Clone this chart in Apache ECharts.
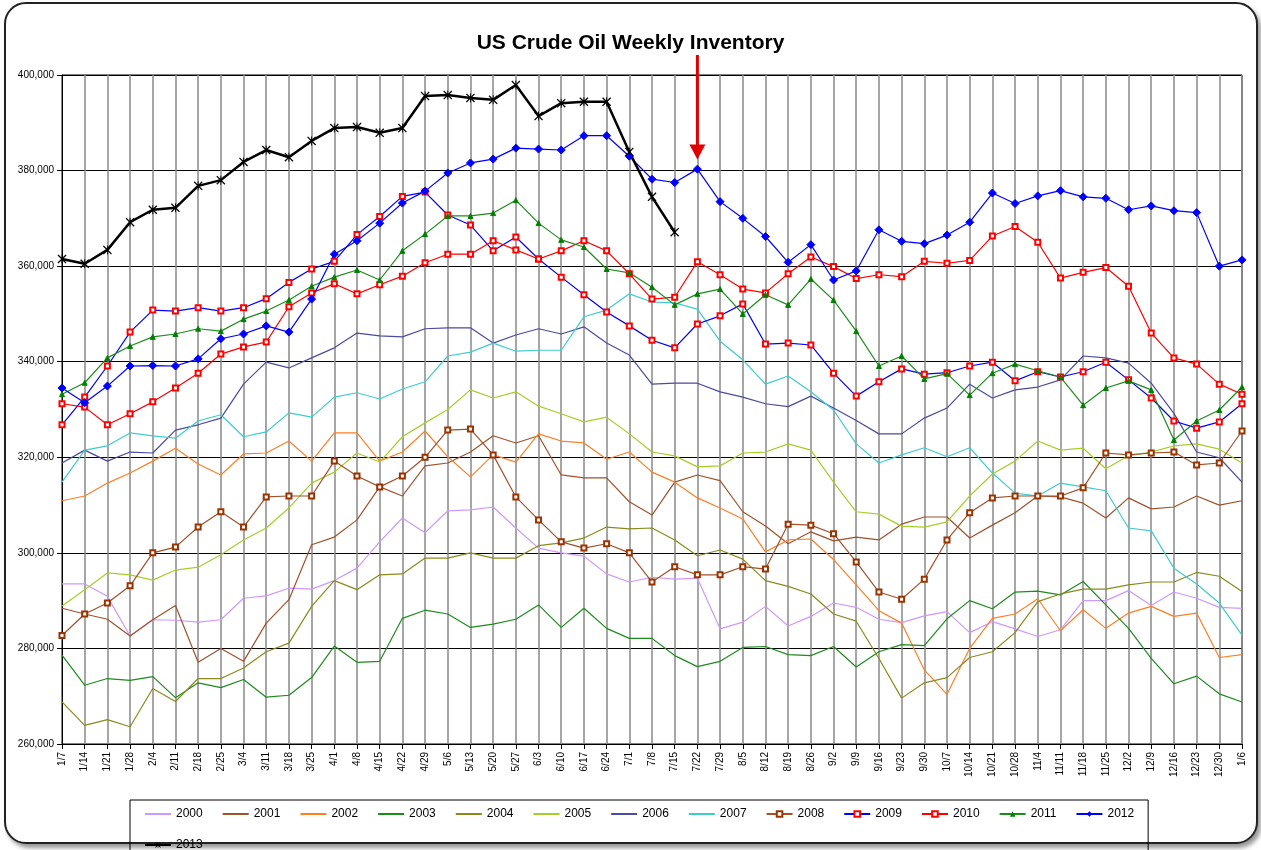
<!DOCTYPE html>
<html>
<head>
<meta charset="utf-8">
<script src="https://cdn.jsdelivr.net/npm/echarts@6/dist/echarts.min.js"></script>
<style>
  html, body { margin: 0; padding: 0; background: #fff; }
  #frame { position: absolute; left: 4px; top: 2px; width: 1250px; height: 838px;
           border: 2px solid #222; border-radius: 22px; box-shadow: 3px 4px 4px #999; background: #fff; }
  #main { position: absolute; left: 0; top: 0; width: 1261px; height: 850px; }
</style>
</head>
<body>
<div id="frame"></div>
<div id="main"></div>
<script>
// week labels (x axis)
var weeks = ['1/7','1/14','1/21','1/28','2/4','2/11','2/18','2/25','3/4','3/11','3/18','3/25','4/1','4/8','4/15','4/22','4/29','5/6','5/13','5/20','5/27','6/3','6/10','6/17','6/24','7/1','7/8','7/15','7/22','7/29','8/5','8/12','8/19','8/26','9/2','9/9','9/16','9/23','9/30','10/7','10/14','10/21','10/28','11/4','11/11','11/18','11/25','12/2','12/9','12/16','12/23','12/30','1/6'];

// inventory, thousand barrels
var y2000 = [293.5,293.5,290.9,282.6,286,285.9,285.5,286,290.5,291,292.6,292.4,294.2,296.8,302.3,307.3,304.2,308.8,309,309.6,305.2,301,300,299.3,295.6,293.9,294.9,294.5,294.7,284.1,285.5,288.8,284.7,286.7,289.5,288.6,286.1,285.4,286.8,287.7,283.3,285.6,284.1,282.5,283.9,290,290,292.1,289,291.8,290.5,288.6,288.4];
var y2001 = [288.4,287.2,286.1,282.6,286,289,277.1,280,277.3,285.3,290.2,301.7,303.3,306.9,313.8,311.9,318.2,318.8,321.1,324.5,323,324.5,316.3,315.7,315.7,310.7,307.9,314.8,316.3,315.1,308.6,305.6,301.9,304.4,302.5,303.3,302.7,306,307.5,307.5,303.1,305.8,308.4,311.9,311.7,310.4,307.3,311.5,309.2,309.6,311.9,310,310.9];
var y2002 = [310.9,311.9,314.6,316.7,319.2,321.9,318.6,316.3,320.7,320.9,323.4,319.2,325.1,325.1,319.2,321.1,325.5,320.1,315.9,320.5,319,324.9,323.4,323,319.6,321.1,316.9,314.8,311.5,309.4,307.1,300.2,302.7,302.9,298.6,293.3,287.9,285.3,275.5,270.4,280,286.3,287.2,290.4,283.7,288.1,284.2,287.4,288.8,286.7,287.4,278.1,278.7];
var y2003 = [278.6,272.3,273.7,273.3,274.1,269.7,272.8,271.8,273.5,269.8,270.2,273.9,280.5,277.1,277.3,286.3,288,287.2,284.4,285.1,286.1,289.1,284.4,288.4,284.2,282.1,282.1,278.5,276.2,277.3,280.2,280.4,278.7,278.5,280.4,276.1,279.3,280.8,280.6,286.2,290,288.3,291.8,292,291.2,294,289.1,284.2,277.9,272.6,274.2,270.5,268.8];
var y2004 = [268.8,263.9,265.1,263.6,271.6,268.9,273.7,273.7,275.9,279.3,281.1,288.8,294.2,292.3,295.4,295.6,298.9,298.9,300,298.9,298.9,301.5,302.1,303.1,305.4,305,305.2,302.7,299.4,300.6,298.7,294.2,293,291.4,287.2,285.7,277.9,269.6,272.8,273.9,278.1,279.3,283.3,289.8,291.4,292.4,292.4,293.3,293.9,293.9,295.9,295.1,291.9];
var y2005 = [288.9,292.3,295.8,295.4,294.3,296.4,297,299.6,302.7,305.2,309.4,314.6,316.9,320.9,319,324.3,327.2,330,334.1,332.4,333.7,330.7,329.1,327.4,328.4,324.9,321.1,320.3,318,318.2,320.9,321.1,322.8,321.5,314.8,308.6,308.1,305.6,305.4,306.5,311.9,316.5,319.2,323.4,321.5,321.9,317.6,320.3,321.1,322.4,322.8,321.7,318.8];
var y2006 = [318.8,321.5,319.2,321.1,320.9,325.7,326.8,328.2,335.3,339.9,338.7,340.8,342.9,346,345.4,345.2,346.9,347.1,347.1,343.9,345.6,346.9,345.8,347.3,343.9,341.4,335.3,335.5,335.5,333.7,332.6,331.2,330.6,332.8,330.3,327.7,324.9,324.9,328.2,330.3,335.3,332.4,334.1,334.7,336.2,341.2,340.8,339.7,335.5,329.2,321.1,319.9,314.8];
var y2007 = [314.8,321.5,322.4,325.1,324.5,324,327.6,328.9,324.3,325.3,329.3,328.4,332.6,333.5,332.2,334.3,335.8,341.2,342,343.9,342.2,342.4,342.4,349.4,350.8,354.2,352.5,352.3,351,344.3,340.4,335.3,337,333.7,329.9,322.8,318.8,320.5,322,320.1,322,316.7,312.5,311.9,314.6,313.8,313,305.2,304.6,296.8,293.5,289.5,282.8];
var y2008 = [282.7,287.2,289.5,293.1,300,301.2,305.4,308.6,305.4,311.7,311.9,311.9,319.2,316.1,313.8,316.1,320,325.7,325.9,320.5,311.7,306.9,302.3,301,301.9,300,293.9,297.1,295.4,295.4,297.1,296.6,306,305.8,304,298.1,291.8,290.3,294.5,302.7,308.4,311.5,311.9,311.9,311.9,313.6,320.9,320.5,320.9,321.1,318.4,318.8,325.5];
var y2009 = [326.8,332.6,339.1,346.2,350.8,350.6,351.3,350.6,351.3,353.2,356.6,359.4,361,366.6,370.4,374.6,375.5,370.7,368.6,363.2,366.1,361.5,357.7,354,350.4,347.5,344.5,342.9,347.9,349.6,352.1,343.7,343.9,343.5,337.6,332.8,335.8,338.5,337.4,337.7,339.1,339.9,336,337.9,336.8,337.9,339.9,336.2,332.4,327.6,326.1,327.4,331.2];
var y2010 = [331.2,330.5,326.8,329.1,331.6,334.5,337.6,341.6,343.1,344.1,351.5,354.4,356.3,354.2,356.1,357.9,360.7,362.5,362.5,365.3,363.4,361.5,363.2,365.3,363.2,358.4,353.1,353.5,360.9,358.2,355.2,354.4,358.4,361.9,359.9,357.4,358.2,357.8,361,360.6,361.2,366.3,368.3,365,357.5,358.7,359.7,355.8,346,340.8,339.5,335.3,333.2];
var y2011 = [333.2,335.6,340.8,343.3,345.2,345.8,346.9,346.4,348.9,350.6,352.9,355.8,357.7,359.2,357.1,363.2,366.7,370.5,370.5,371.1,373.8,369,365.5,364,359.4,358.6,355.6,351.9,354.2,355.2,350,354,351.9,357.3,352.9,346.4,339.1,341.2,336.4,337.5,333,337.6,339.5,338.1,336.8,330.9,334.5,336,334.1,323.6,327.6,329.9,334.7];
var y2012 = [334.5,331.4,334.9,339.1,339.2,339.1,340.6,344.8,345.8,347.5,346.2,353.1,362.5,365.3,369,373.2,375.7,379.5,381.6,382.4,384.7,384.5,384.3,387.3,387.3,383,378.2,377.5,380.3,373.5,370,366.2,360.8,364.5,357.1,359,367.6,365.2,364.7,366.5,369.2,375.3,373.1,374.7,375.8,374.5,374.2,371.8,372.6,371.6,371.2,360,361.3];
var y2013 = [361.5,360.5,363.4,369.2,371.8,372.2,376.8,378,381.8,384.3,382.8,386.2,388.9,389.1,387.9,388.9,395.6,395.8,395.2,394.8,397.9,391.4,394.1,394.4,394.4,383.9,374.5,367.1];

var star = 'path://M0,1L1,0L5,4L9,0L10,1L6,5L10,9L9,10L5,6L1,10L0,9L4,5Z M4.5,0L5.5,0L5.5,10L4.5,10Z';

function plain(name, data, color) {
  return { name: name, type: 'line', data: data, symbol: 'none', lineStyle: { color: color, width: 1.2 }, itemStyle: { color: color } };
}
function marked(name, data, lineColor, markColor, symbol, size) {
  return { name: name, type: 'line', data: data, symbol: symbol, symbolSize: size,
    lineStyle: { color: lineColor, width: 1.2 }, itemStyle: { color: markColor, borderColor: markColor } };
}

var series = [
  plain('2000', y2000, '#CC99FF'),
  plain('2001', y2001, '#A0522D'),
  plain('2002', y2002, '#FF7F27'),
  plain('2003', y2003, '#1E8B1E'),
  plain('2004', y2004, '#8A8A1E'),
  plain('2005', y2005, '#A6CE2A'),
  plain('2006', y2006, '#4B4BA0'),
  plain('2007', y2007, '#40CCCC'),
  marked('2008', y2008, '#A0522D', '#993300', 'emptyRect', 5),
  marked('2009', y2009, '#0000FF', '#FF0000', 'emptyRect', 5),
  marked('2010', y2010, '#FF0000', '#FF0000', 'emptyRect', 5),
  marked('2011', y2011, '#1E8B1E', '#008000', 'triangle', 5),
  marked('2012', y2012, '#0000FF', '#0000FF', 'diamond', 8),
  { name: '2013', type: 'line', data: y2013, symbol: star, symbolSize: 9,
    lineStyle: { color: '#000', width: 2.5 }, itemStyle: { color: '#000' } }
];

var legendData = series.map(function (s) {
  return s.symbol === 'none' ? { name: s.name, itemStyle: { opacity: 0 } } : { name: s.name };
});

var chart = echarts.init(document.getElementById('main'));
chart.setOption({
  animation: false,
  title: { text: 'US Crude Oil Weekly Inventory', left: 'center', top: 28,
    textStyle: { fontFamily: 'Liberation Sans', fontSize: 21, fontWeight: 'bold', color: '#000' } },
  grid: { left: 62, right: 19, top: 75, bottom: 106, show: true, borderColor: '#000', borderWidth: 1 },
  legend: {
    left: 130, top: 800, width: 1000,
    borderColor: '#000', borderWidth: 1, padding: [8, 14, 8, 14],
    itemWidth: 26, itemHeight: 7, itemGap: 19,
    textStyle: { fontFamily: 'Liberation Sans', fontSize: 12, color: '#000' },
    data: legendData
  },
  xAxis: {
    type: 'category', data: weeks, boundaryGap: false,
    axisLine: { lineStyle: { color: '#000' } },
    axisTick: { show: true, alignWithLabel: true, lineStyle: { color: '#000' } },
    axisLabel: { interval: 0, rotate: 90, fontSize: 10, color: '#000', fontFamily: 'Liberation Sans' },
    splitLine: { show: true, interval: 0, lineStyle: { color: '#888', width: 1.5 } }
  },
  yAxis: {
    type: 'value', min: 260, max: 400, interval: 20,
    axisLine: { show: true, lineStyle: { color: '#000' } },
    axisTick: { show: true, lineStyle: { color: '#000' } },
    axisLabel: { fontSize: 10, color: '#000', fontFamily: 'Liberation Sans',
      formatter: function (v) { return (v * 1000).toLocaleString('en-US'); } },
    splitLine: { lineStyle: { color: '#000', width: 1.2 } }
  },
  series: series
});

// red arrow pointing at the 7/22 value of 2012
var tip = chart.convertToPixel({ gridIndex: 0 }, ['7/22', y2012[weeks.indexOf('7/22')] + 2]);
chart.setOption({
  graphic: [
    { type: 'rect', shape: { x: tip[0] - 1.5, y: 55, width: 3, height: tip[1] - 55 - 14 }, style: { fill: '#E00000' }, z: 100 },
    { type: 'polygon', shape: { points: [[tip[0] - 8, tip[1] - 15], [tip[0] + 8, tip[1] - 15], [tip[0], tip[1]]] }, style: { fill: '#E00000' }, z: 100 }
  ]
});
</script>
</body>
</html>
